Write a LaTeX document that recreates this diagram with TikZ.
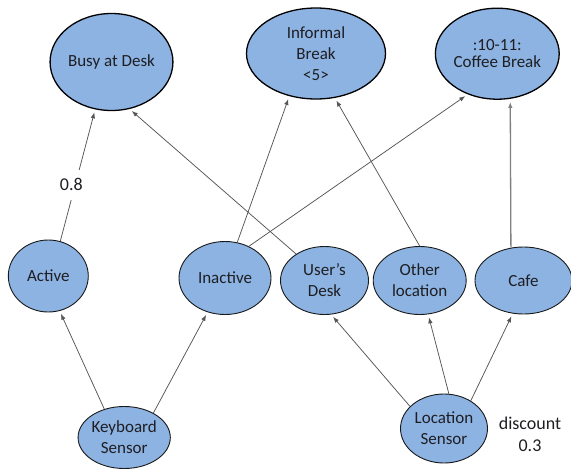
\documentclass[tikz,border=0pt]{standalone}
\usepackage{fontspec}
\setmainfont{Carlito}
\usetikzlibrary{shapes.geometric,arrows.meta}
\definecolor{nodeblue}{RGB}{141,179,226}
\definecolor{edgegray}{RGB}{85,85,85}
\definecolor{txt}{RGB}{30,30,35}
\tikzset{
  ell/.style={ellipse, draw=black!90, line width=0.9pt, fill=nodeblue, inner sep=0pt,
    align=center, text=txt, font=\fontsize{17}{21}\selectfont},
  topell/.style={ell, line width=1.3pt, draw=black},
  conn/.style={draw=edgegray, line width=0.75pt, -{Latex[length=6pt,width=4.5pt]}, shorten >=3pt},
  lbl/.style={font=\fontsize{18}{22}\selectfont, text=txt, align=center}
}
\begin{document}
\begin{tikzpicture}[x=1pt,y=-1pt]
\useasboundingbox (0,0) rectangle (571,469);
% top row
\node[topell, minimum width=114pt, minimum height=97pt] (busy) at (111.5,62) {Busy at Desk};
\node[topell, minimum width=139pt, minimum height=91pt] (informal) at (316,53.5) {Informal\\Break\\<5>};
\node[topell, minimum width=121pt, minimum height=91pt, font=\fontsize{17}{17.5}\selectfont] (coffee) at (497.3,53.7) {:10-11:\\Coffee Break};
% middle row
\node[ell, minimum width=80pt, minimum height=72pt] (active) at (48.3,276) {Active};
\node[ell, minimum width=92pt, minimum height=73pt] (inactive) at (225,278) {Inactive};
\node[ell, minimum width=88pt, minimum height=68pt] (desk) at (324.5,280.5) {User’s\\Desk};
\node[ell, minimum width=93pt, minimum height=68pt] (other) at (419.7,280.5) {Other\\location};
\node[ell, minimum width=97pt, minimum height=67pt] (cafe) at (523.5,280.5) {Cafe};
% bottom row
\node[ell, minimum width=87pt, minimum height=62pt] (keyboard) at (124.2,437.5) {Keyboard\\Sensor};
\node[ell, minimum width=87pt, minimum height=69pt] (location) at (444,428.5) {Location\\Sensor};
\node[lbl] (discount) at (530,434) {discount\\0.3};
% connectors
\draw[conn] (active.71.2) -- node[pos=0.43, xshift=-4pt, fill=white, lbl, inner sep=0pt, minimum width=36pt, minimum height=30pt] (p08) {0.8} (busy.-109.5);
\draw[conn] (desk.137.3) -- (busy.-69.9);
\draw[conn] (inactive.71.3) -- (informal.-122);
\draw[conn] (other.90.7) -- (informal.-67.3);
\draw[conn] (inactive.53) -- (coffee.-126.5);
\draw[conn, draw=gray, line width=1.3pt] (cafe.111.2) -- (coffee.-74.8);
\draw[conn] (keyboard.125.6) -- (active.-72.4);
\draw[conn] (keyboard.40.2) -- (inactive.-117.5);
\draw[conn] (location.147.8) -- (desk.-79.5);
\draw[conn] (location.82.9) -- (other.-76.1);
\draw[conn] (location.46.9) -- (cafe.-108.8);
\end{tikzpicture}
\end{document}
